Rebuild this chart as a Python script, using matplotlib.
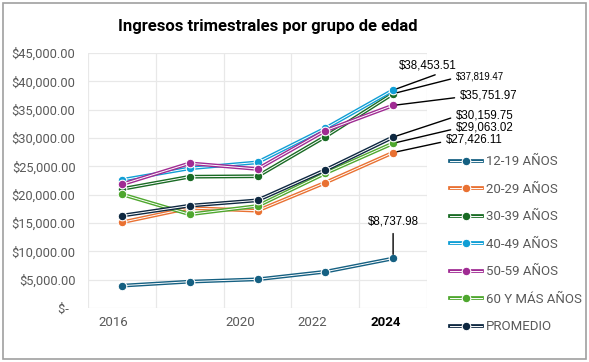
import matplotlib
matplotlib.use('Agg')
import matplotlib.pyplot as plt
from matplotlib.lines import Line2D
from matplotlib.patches import Rectangle
from matplotlib.ticker import FuncFormatter, MultipleLocator
import matplotlib.transforms as mtransforms

# --- Data ---
years = ['2016', '', '2020', '2022', '2024']
series_names = ['12-19 AÑOS', '20-29 AÑOS', '30-39 AÑOS', '40-49 AÑOS',
                '50-59 AÑOS', '60 Y MÁS AÑOS', 'PROMEDIO']
age_12_19 = [3940, 4650, 5060, 6400, 8737.98]
age_20_29 = [15120, 17650, 17170, 22120, 27426.11]
age_30_39 = [21000, 23170, 23250, 30230, 37819.47]
age_40_49 = [22600, 24650, 25700, 31700, 38453.51]
age_50_59 = [21820, 25530, 24530, 31290, 35751.97]
age_60_mas = [20060, 16530, 18000, 23770, 29063.02]
promedio = [16300, 18060, 19000, 24350, 30159.75]
all_series = [age_12_19, age_20_29, age_30_39, age_40_49, age_50_59, age_60_mas, promedio]
colors = ['#156082', '#E97132', '#196B24', '#0F9ED5', '#A02B93', '#4EA72E', '#0E2841']

plt.rcParams['font.family'] = ['Roboto', 'DejaVu Sans']
gray = '#595959'

fig = plt.figure(figsize=(5.89, 3.62), dpi=100)
ax = fig.add_axes([88 / 589, 54 / 362, 339 / 589, 255 / 362])

# double-line look: thick coloured line with a thin white line on top
x = list(range(len(years)))
handles = []
for i, (vals, c, name) in enumerate(zip(all_series, colors, series_names)):
    z = 3 + i
    ax.plot(x, vals, color=c, lw=2.7, zorder=z, solid_capstyle='butt')
    ax.plot(x, vals, color='white', lw=0.7, zorder=z + 0.1)
    ax.plot(x, vals, ls='none', marker='o', ms=6.2, mfc=c, mec='white', mew=0.8, zorder=z + 0.2)
    handles.append((Line2D([], [], color=c, lw=2.7),
                    Line2D([], [], color='white', lw=0.7),
                    Line2D([], [], ls='none', marker='o', ms=6.2, mfc=c, mec='white', mew=0.8)))

ax.set_xlim(-0.5, 4.5)
ax.set_ylim(0, 45000)
ax.yaxis.set_major_locator(MultipleLocator(5000))
ax.yaxis.set_major_formatter(FuncFormatter(lambda v, p: f'${v:,.2f}' if v > 0 else '$-  '))
ax.set_xticks(x)
ax.set_xticklabels(years)
ax.set_xticks([i - 0.5 for i in range(len(years) + 1)], minor=True)
ax.tick_params(axis='both', which='both', length=0)
ax.tick_params(axis='y', labelsize=9.3, labelcolor=gray, pad=9)
ax.tick_params(axis='x', labelsize=9.5, labelcolor=gray, pad=6)
x_shift = [-9, 0, -17, -13, -7]
for lab, dx in zip(ax.get_xticklabels(), x_shift):
    lab.set_transform(lab.get_transform() + mtransforms.ScaledTranslation(dx / 100, 0, fig.dpi_scale_trans))
last = ax.get_xticklabels()[-1]
last.set_color('black')
last.set_fontweight('bold')

ax.grid(True, axis='y', which='major', color='#e8e8e8', lw=0.9)
ax.grid(True, axis='x', which='minor', color='#e8e8e8', lw=0.9)
for s in ax.spines.values():
    s.set_visible(False)
ax.set_axisbelow(True)

# --- Data labels for the last year ---
label_specs = [
    # value, dx, dy (pixels), ha, relpos, fontsize
    (age_40_49[-1], 35, 25, 'center', (0.8, 0.0), 8.3),
    (age_30_39[-1], 63, 17, 'left', (0.0, 0.4), 6.9),
    (age_50_59[-1], 67, 9.5, 'left', (0.0, 0.4), 8.3),
    (promedio[-1], 63, 22, 'left', (0.0, 0.4), 8.3),
    (age_60_mas[-1], 63, 16, 'left', (0.0, 0.4), 8.3),
    (age_20_29[-1], 53, 12.6, 'left', (0.0, 0.4), 8.3),
    (age_12_19[-1], 0, 36.5, 'center', (0.5, 0.0), 8.3),
]
for val, dx, dy, ha, rp, fs in label_specs:
    ax.annotate(f'${val:,.2f}', xy=(4, val), xytext=(dx, dy), textcoords='offset pixels',
                ha=ha, va='center', fontsize=fs, family='Liberation Sans', color='black',
                annotation_clip=False, zorder=20,
                arrowprops=dict(arrowstyle='-', color='black', lw=1.0, relpos=rp,
                                shrinkA=2, shrinkB=3))

fig.text(268 / 589, 1 - 26 / 362, 'Ingresos trimestrales por grupo de edad',
         ha='center', va='center', fontsize=12, fontweight='bold', color='black')

leg = fig.legend(handles, series_names, loc='upper left',
                 bbox_to_anchor=(445 / 589, 1 - 150 / 362), frameon=False,
                 fontsize=9.5, labelcolor=gray, handlelength=2.4, handletextpad=0.3,
                 labelspacing=1.1, borderaxespad=0)

# chart border
fig.add_artist(Rectangle((3 / 589, 3 / 362), 583 / 589, 356 / 362, transform=fig.transFigure,
                         fill=False, edgecolor='#a0a0a0', lw=1.2))

fig.savefig('out.png', dpi=100)
